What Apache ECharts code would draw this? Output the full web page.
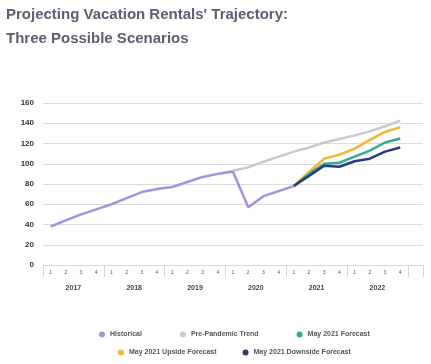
<!DOCTYPE html>
<html><head><meta charset="utf-8">
<script src="https://cdn.jsdelivr.net/npm/echarts@6/dist/echarts.min.js"></script>
<style>html,body{margin:0;padding:0;background:#fff}#c{width:431px;height:364px}</style>
</head><body><div id="c"></div>
<script>
const years = ['2017','2018','2019','2020','2021','2022'];
const quarterLabels = ['1','2','3','4'];
const historical = [38,44,50,55, 60,66,72,75, 77,82,87,90, 92,57,68,73, 78];
const prePandemic = [null,null,null,null, null,null,null,null, null,null,null,90, 93,96.5,102,107, 112,116,121,124.5, 128,132,137,142.5];
const forecast = [null,null,null,null, null,null,null,null, null,null,null,null, null,null,null,null, 78,90,100,101, 107,113,121,125];
const upside = [null,null,null,null, null,null,null,null, null,null,null,null, null,null,null,null, 78,92,105,109, 115,123.5,131.5,136];
const downside = [null,null,null,null, null,null,null,null, null,null,null,null, null,null,null,null, 78,88,98,97, 102.5,105,112,116];
const yTicks = {min:0, max:160, interval:20};

const quarters = [];
years.forEach(() => quarterLabels.forEach(q => quarters.push(q)));
quarters.push('');
const yearAxis = [];
for (let i = 0; i <= quarters.length * 2; i++) yearAxis.push('');
years.forEach((y, k) => { yearAxis[8 * k + 4] = y; });

const font = '"Liberation Sans", Arial, sans-serif';
const chart = echarts.init(document.getElementById('c'));
const lineS = (name, data, color, z) => ({
  name, type:'line', data, xAxisIndex:0, symbol:'none', z,
  lineStyle:{color, width:2.5}, itemStyle:{color}, connectNulls:false, animation:false
});
chart.setOption({
  animation:false,
  title:{
    text:"Projecting Vacation Rentals' Trajectory:\nThree Possible Scenarios",
    left:1, top:-2,
    textStyle:{fontFamily:font, fontSize:15, fontWeight:'bold', color:'#5b6070', lineHeight:24}
  },
  grid:{left:43, right:8, top:103, bottom:99},
  xAxis:[{
    type:'category', data:quarters, boundaryGap:true,
    axisLine:{lineStyle:{color:'#d6d6d6', width:1}},
    axisTick:{show:true, length:12, interval:(i)=> i % 4 === 0 && i < 25, lineStyle:{color:'#d6d6d6'}},
    axisLabel:{interval:0, fontSize:5, color:'#555', fontFamily:font, margin:5}
  },{
    type:'category', data:yearAxis, boundaryGap:false, position:'bottom', offset:0,
    axisLine:{show:false}, axisTick:{show:false},
    axisLabel:{interval:0, fontSize:7, fontWeight:'bold', color:'#444', fontFamily:font, margin:20}
  }],
  yAxis:{
    type:'value', min:yTicks.min, max:yTicks.max, interval:yTicks.interval,
    axisLine:{show:false}, axisTick:{show:false},
    splitLine:{lineStyle:{color:'#dcdcdc', width:1.2}},
    axisLabel:{fontSize:8, fontWeight:'bold', color:'#333', fontFamily:font, margin:9}
  },
  legend:[{
    data:['Historical','Pre-Pandemic Trend','May 2021 Forecast'],
    left:94, top:326, icon:'circle', itemWidth:6, itemHeight:6, itemGap:38,
    textStyle:{fontSize:7, fontWeight:'bold', color:'#555', fontFamily:font}
  },{
    data:['May 2021 Upside Forecast','May 2021 Downside Forecast'],
    left:113, top:344, icon:'circle', itemWidth:6, itemHeight:6, itemGap:26,
    textStyle:{fontSize:7, fontWeight:'bold', color:'#555', fontFamily:font}
  }],
  series:[
    lineS('Historical', historical, '#a88fe2', 10),
    lineS('Pre-Pandemic Trend', prePandemic, '#c9c9c9', 2),
    lineS('May 2021 Forecast', forecast, '#2fae93', 4),
    lineS('May 2021 Upside Forecast', upside, '#f4b533', 3),
    lineS('May 2021 Downside Forecast', downside, '#2f3a7e', 5)
  ]
});
</script></body></html>
